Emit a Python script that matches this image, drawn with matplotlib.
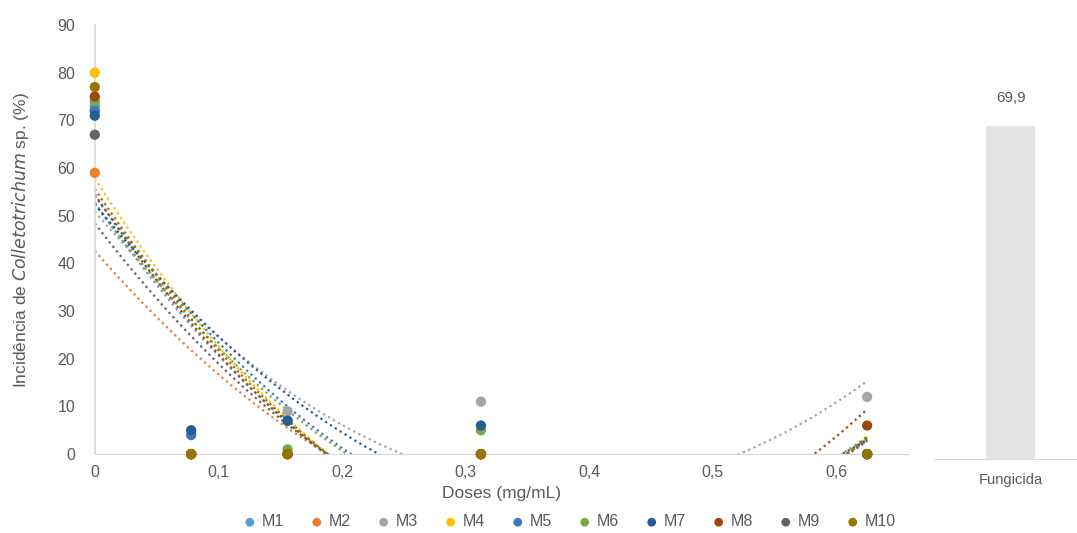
import matplotlib
matplotlib.use('Agg')
from matplotlib import pyplot as plt
import numpy as np

plt.rcParams['font.family'] = ['Liberation Sans', 'DejaVu Sans']

# doses (mg/mL)
doses = [0, 0.078, 0.156, 0.3125, 0.625]

# incidence per sample (%)
series_names = ['M1', 'M2', 'M3', 'M4', 'M5', 'M6', 'M7', 'M8', 'M9', 'M10']
m1 = [73, 0, 0, 0, 0]
m2 = [59, 0, 0, 0, 0]
m3 = [72, 0, 9, 11, 12]
m4 = [80, 0, 0, 0, 0]
m5 = [72, 4, 7, 0, 0]
m6 = [74, 0, 1, 5, 0]
m7 = [71, 5, 7, 6, 0]
m8 = [75, 0, 0, 0, 6]
m9 = [67, 0, 0, 0, 0]
m10 = [77, 0, 0, 0, 0]
series_values = [m1, m2, m3, m4, m5, m6, m7, m8, m9, m10]

colors = ['#5B9BD5', '#ED7D31', '#A5A5A5', '#FFC000', '#4472C4',
          '#70AD47', '#255E91', '#9E480E', '#636363', '#997300']

fung_label = ['Fungicida']
fung_value = [69.9]

tick_col = '#595959'
axis_col = '#D9D9D9'

fig = plt.figure(figsize=(10.77, 5.33), dpi=100)
ax = fig.add_axes([0.088, 0.148, 0.755, 0.805])
ax2 = fig.add_axes([0.868, 0.139, 0.132, 0.814])

# trend lines (2nd order polynomial, like the spreadsheet)
xx = np.linspace(0, 0.625, 200)
for vals, c in zip(series_values, colors):
    coef = np.polyfit(doses, vals, 2)
    ax.plot(xx, np.polyval(coef, xx), linestyle=(0, (1, 1.6)), color=c,
            linewidth=1.6, zorder=2)

for name, vals, c in zip(series_names, series_values, colors):
    ax.scatter(doses, vals, s=55, color=c, label=name, zorder=3,
               edgecolors='none', clip_on=False)

ax.set_xlim(0, 0.658)
ax.set_ylim(0, 90)
ax.set_yticks(np.arange(0, 91, 10))
ax.set_xticks([0, 0.1, 0.2, 0.3, 0.4, 0.5, 0.6])
ax.set_xticklabels(['0', '0,1', '0,2', '0,3', '0,4', '0,5', '0,6'])
for s in ['top', 'right']:
    ax.spines[s].set_visible(False)
ax.spines['left'].set_color(axis_col)
ax.spines['bottom'].set_color(axis_col)
ax.spines['left'].set_linewidth(1.2)
ax.tick_params(axis='y', length=0, colors=tick_col, labelsize=11.5, pad=14)
ax.tick_params(axis='x', length=0, colors=tick_col, labelsize=11.5, pad=8)
ax.set_xlabel('Doses (mg/mL)', color=tick_col, fontsize=12.5, labelpad=4)
ax.set_ylabel(r'Incidência de $\it{Colletotrichum}$ sp. (%)', color=tick_col,
              fontsize=12.5, labelpad=19)

leg = ax.legend(loc='center', bbox_to_anchor=(0.584, -0.158), ncol=10,
                frameon=False, fontsize=11.5, handlelength=0.8,
                handletextpad=0.35, columnspacing=1.65, markerscale=0.85,
                labelcolor=tick_col)

# fungicide panel
bars = ax2.bar(fung_label, fung_value, width=0.355, color='#E4E4E4')
ax2.set_xlim(-0.55, 0.48)
ax2.set_ylim(0, 91)
ax2.set_yticks([])
for s in ['top', 'right', 'left']:
    ax2.spines[s].set_visible(False)
ax2.spines['bottom'].set_color(axis_col)
ax2.tick_params(length=0, colors=tick_col, labelsize=10.5, pad=10)
ax2.bar_label(bars, labels=['69,9'], padding=15, color=tick_col, fontsize=11)

fig.savefig('out.png', dpi=100)
